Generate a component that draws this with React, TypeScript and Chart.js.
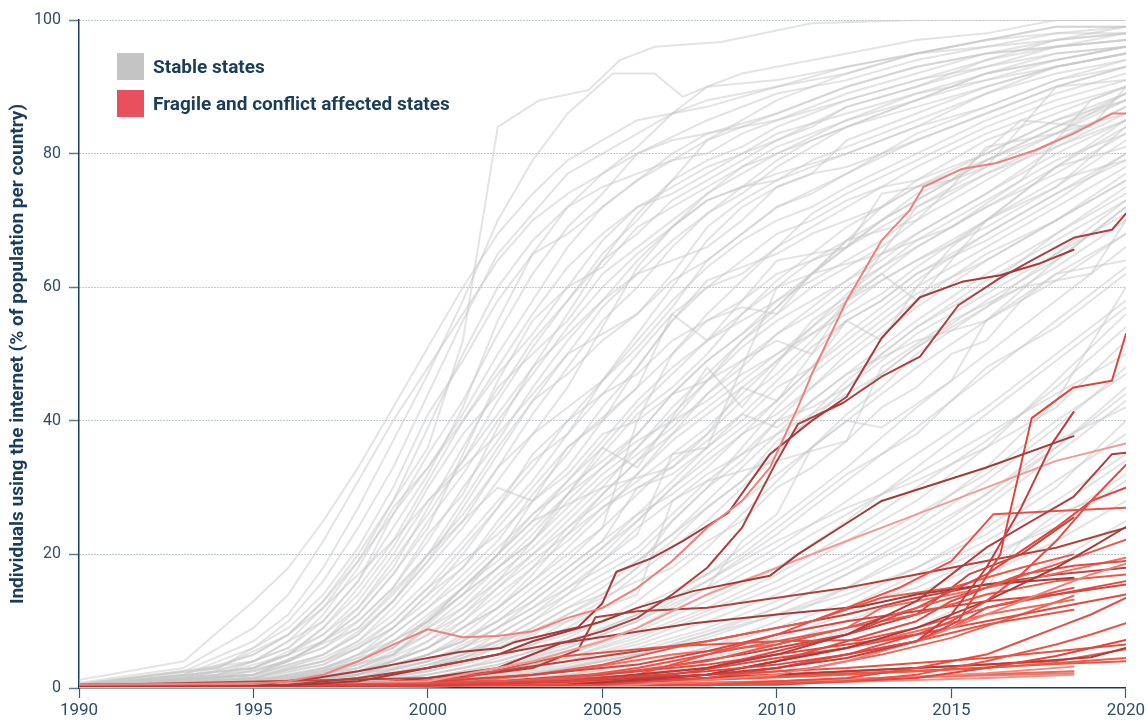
import React, { useEffect, useRef } from "react";
import Chart from "chart.js/auto";

type Pt = [number, number];

const X_MIN = 1990;
const X_MAX = 2020;
const X_STEP = 5;
const Y_MIN = 0;
const Y_MAX = 100;
const Y_STEP = 20;
const LEGEND_LABELS = ["Stable states", "Fragile and conflict affected states"];
const Y_TITLE = "Individuals using the internet (% of population per country)";

// ---------- Stable states (grey) ----------
const G01: Pt[] = [[1990,0.8],[1993,3],[1995,9],[1996,14],[1997,22],[1998,31],[1999,40],[2000,48],[2001,56],[2002,64],[2003,70],[2004,74],[2006,80],[2008,85],[2010,89],[2012,91],[2014,94],[2016,96],[2018,97],[2020,98]];
const G02: Pt[] = [[1990,1.2],[1993,4],[1995,13],[1996,18],[1997,25],[1998,33],[1999,42],[2000,51],[2001,60],[2002,68],[2003,74],[2004,79],[2006,85],[2008,87],[2010,90],[2012,93],[2014,95],[2016,97],[2018,99],[2020,99]];
const G03: Pt[] = [[1990,0.4],[1993,2],[1995,5],[1996,8],[1997,13],[1998,20],[1999,28],[2000,36],[2001,52],[2002,84],[2003.2,88],[2004.6,89.5],[2005.5,94],[2006.5,96],[2008.4,96.7],[2011,99.5],[2014,100],[2020,100]];
const G04: Pt[] = [[1990,0.6],[1993,2.5],[1995,7],[1996,11],[1997,18],[1998,27],[1999,37],[2000,47],[2001,58],[2002,70],[2003,79],[2004,86],[2005.3,92],[2006.5,92],[2007.3,88.5],[2008,90],[2010,91],[2012,93],[2014,95],[2016,96],[2018,98],[2020,98]];
const G05: Pt[] = [[1990,0.3],[1993,1.5],[1995,4],[1996,7],[1997,12],[1998,19],[1999,28],[2000,39],[2001,50],[2002,60],[2003,67],[2004,72],[2005,77],[2006,81],[2007,86],[2008,88],[2010,90],[2012,92],[2014,95],[2016,97],[2018,98],[2020,99]];
const G06: Pt[] = [[1990,0.5],[1993,2],[1995,6],[1996,9],[1997,14],[1998,21],[1999,30],[2000,41],[2001,49],[2002,58],[2003,65],[2004,68],[2005,72],[2006,76],[2007,80],[2008,83],[2010,86],[2012,90],[2014,93],[2016,95],[2018,96],[2020,97]];
const G07: Pt[] = [[1990,0.2],[1993,1],[1995,3],[1996,5],[1997,9],[1998,15],[1999,22],[2000,31],[2001,40],[2002,48],[2003,56],[2004,63],[2005,68],[2006,72],[2007,75],[2008,78],[2009,80],[2010,83],[2012,86],[2014,89],[2016,91],[2018,93],[2020,95]];
const G08: Pt[] = [[1990,0.3],[1993,1.2],[1995,4],[1996,6],[1997,10],[1998,16],[1999,26],[2000,35],[2001,43],[2002,53],[2003,62],[2004,69],[2005,74],[2006,80],[2007,82],[2008,83],[2010,85],[2012,88],[2014,91],[2016,93],[2018,96],[2020,97]];
const G09: Pt[] = [[1990,0.2],[1993,1],[1995,2.5],[1996,4],[1997,7],[1998,12],[1999,18],[2000,27],[2001,36],[2002,45],[2003,50],[2004,55],[2005,62],[2006,66],[2007,70],[2008,74],[2009,77],[2010,80],[2012,84],[2014,87],[2016,90],[2018,93],[2020,95]];
const G10: Pt[] = [[1990,0.4],[1993,1.5],[1995,5],[1996,8],[1997,12],[1998,17],[1999,22],[2000,28],[2001,34],[2002,41],[2003,48],[2004,56],[2005,64],[2006,71],[2007,76],[2008,82],[2009,85],[2010,88],[2012,92],[2014,95],[2016,97],[2018,99],[2020,99]];
const G11: Pt[] = [[1990,0.1],[1995,2],[1997,5],[1998,8],[1999,13],[2000,20],[2001,26],[2002,33],[2003,38],[2004,42],[2005,46],[2006,52],[2007,58],[2008,63],[2009,67],[2010,70],[2011,72],[2012,75],[2014,80],[2016,85],[2018,89],[2020,92]];
const G12: Pt[] = [[1990,0.2],[1995,1.5],[1997,4],[1998,7],[1999,11],[2000,16],[2001,22],[2002,28],[2003,34],[2004,38],[2005,44],[2006,50],[2007,56],[2008,60],[2009,62],[2010,66],[2012,72],[2014,78],[2016,83],[2018,87],[2020,90]];
const G13: Pt[] = [[1990,0.1],[1995,1],[1997,3],[1998,5],[1999,9],[2000,14],[2001,18],[2002,24],[2003,30],[2004,36],[2005,40],[2006,45],[2007,50],[2008,56],[2009,61],[2010,66],[2011,71],[2012,74],[2014,79],[2016,84],[2018,88],[2020,91]];
const G14: Pt[] = [[1990,0.2],[1995,2.5],[1997,6],[1998,10],[1999,15],[2000,22],[2001,30],[2002,37],[2003,45],[2004,52],[2005,58],[2006,62],[2007,64],[2008,66],[2009,70],[2010,75],[2011,77],[2012,78],[2014,82],[2016,86],[2018,90],[2020,93]];
const G15: Pt[] = [[1990,0.1],[1995,1],[1997,2.5],[1998,4],[1999,7],[2000,11],[2001,15],[2002,20],[2003,26],[2004,31],[2005,37],[2006,43],[2007,48],[2008,52],[2009,55],[2010,58],[2011,61],[2012,64],[2013,67],[2014,71],[2016,77],[2018,82],[2020,87]];
const G16: Pt[] = [[1990,0.3],[1995,3],[1997,7],[1998,11],[1999,17],[2000,25],[2001,32],[2002,40],[2003,47],[2004,54],[2005,60],[2006,65],[2007,69],[2008,73],[2009,75],[2010,77],[2012,80],[2014,84],[2016,87],[2018,91],[2020,94]];
const G17: Pt[] = [[1990,0.1],[1995,1.2],[1997,3.5],[1998,6],[1999,10],[2000,15],[2001,19],[2002,23],[2003,28],[2004,33],[2005,40],[2006,48],[2007,55],[2008,60],[2009,64],[2010,68],[2011,70],[2012,73],[2013,75],[2014,76],[2016,80],[2018,85],[2020,88]];
const G18: Pt[] = [[1990,0.2],[1995,2],[1997,5],[1998,8.5],[1999,13],[2000,19],[2001,27],[2002,35],[2003,43],[2004,50],[2005,57],[2006,62],[2007,67],[2008,71],[2009,74],[2010,78],[2011,81],[2012,84],[2014,88],[2016,91],[2018,94],[2020,96]];
const G19: Pt[] = [[1990,0],[1995,0.8],[1997,2],[1998,3.5],[1999,6],[2000,10],[2001,14],[2002,18],[2003,22],[2004,27],[2005,32],[2006,36],[2007,41],[2008,46],[2009,52],[2010,57],[2011,62],[2012,66],[2013,70],[2014,73],[2016,79],[2018,84],[2020,88]];
const G20: Pt[] = [[1990,0.3],[1995,2],[1997,4.5],[1998,7],[1999,12],[2000,18],[2001,24],[2002,31],[2003,38],[2004,45],[2005,54],[2006,63],[2007,69],[2008,74],[2009,78],[2010,81],[2012,85],[2014,89],[2016,92],[2018,94],[2020,96]];
const G21: Pt[] = [[1990,0.1],[1995,1],[1997,3],[1998,5],[1999,8],[2000,12],[2001,17],[2002,22],[2003,29],[2004,35],[2005,42],[2006,48],[2007,55],[2008,61],[2009,63],[2010,65],[2011,68],[2012,70],[2013,72],[2014,75],[2016,79],[2018,83],[2020,86]];
const G22: Pt[] = [[1990,0.2],[1995,1.5],[1997,3.5],[1998,6],[1999,9],[2000,14],[2001,20],[2002,27],[2003,35],[2004,40],[2005,44],[2006,47],[2007,52],[2008,55],[2009,58],[2010,62],[2011,64],[2012,67],[2013,70],[2014,74],[2016,78],[2018,83],[2020,89]];
const G23: Pt[] = [[1990,0.2],[1995,1.8],[1997,4],[1998,6],[1999,9],[2000,13],[2001,18],[2002,25],[2003,31],[2004,38],[2005,46],[2006,53],[2007,60],[2008,67],[2009,72],[2010,75],[2011,77],[2012,82],[2014,86],[2016,90],[2018,93],[2020,95]];
const G24: Pt[] = [[1990,0.1],[1995,0.8],[1997,2],[1998,3.5],[1999,5],[2000,9],[2001,12],[2002,16],[2003,20],[2004,24],[2005,29],[2006,34],[2007,40],[2008,46],[2009,51],[2010,55],[2011,58],[2012,61],[2013,64],[2014,68],[2016,74],[2018,81],[2020,85]];
const G25: Pt[] = [[1990,0],[1995,0.3],[1998,1.5],[2000,4],[2001,6],[2002,9],[2003,12],[2004,16],[2005,20],[2006,25],[2007,30],[2008,35],[2009,39],[2010,43],[2011,48],[2012,52],[2013,56],[2014,60],[2016,66],[2018,72],[2020,78]];
const G26: Pt[] = [[1990,0],[1995,0.5],[1998,2],[2000,5],[2001,7],[2002,10],[2003,14],[2004,18],[2005,22],[2006,26],[2007,29],[2008,33],[2009,38],[2010,43],[2011,50],[2012,55],[2013,58],[2014,62],[2016,67],[2018,73],[2020,80]];
const G27: Pt[] = [[1990,0],[1995,0.2],[1998,1],[2000,3],[2001,4.5],[2002,7],[2003,10],[2004,13],[2005,16],[2006,19],[2007,23],[2008,28],[2009,33],[2010,38],[2011,43],[2012,47],[2013,51],[2014,55],[2016,62],[2018,68],[2020,74]];
const G28: Pt[] = [[1990,0],[1995,0.4],[1998,2.5],[2000,6],[2001,9],[2002,13],[2003,18],[2004,24],[2005,28],[2006,32],[2007,37],[2008,41],[2009,45],[2010,49],[2011,53],[2012,57],[2013,61],[2014,64],[2016,69],[2018,75],[2020,82]];
const G29: Pt[] = [[1990,0],[1995,0.3],[1998,1.2],[2000,3.5],[2001,5],[2002,8],[2003,11],[2004,15],[2005,18],[2006,21],[2007,26],[2008,31],[2009,35],[2010,40],[2011,45],[2012,50],[2013,54],[2014,58],[2016,65],[2018,70],[2020,76]];
const G30: Pt[] = [[1990,0],[1995,0.5],[1998,2],[2000,5],[2001,8],[2002,12],[2003,17],[2004,23],[2005,29],[2006,34],[2007,38],[2008,42],[2009,46],[2010,50],[2011,53],[2012,56],[2013,59],[2014,63],[2016,70],[2018,78],[2020,84]];
const G31: Pt[] = [[1990,0],[1995,0.2],[1998,1],[2000,2.5],[2001,3.5],[2002,5],[2003,7],[2004,10],[2005,13],[2006,17],[2007,21],[2008,25],[2009,30],[2010,35],[2011,41],[2012,46],[2013,50],[2014,54],[2016,61],[2018,67],[2020,73]];
const G32: Pt[] = [[1990,0],[1995,0.3],[1998,1.5],[2000,4],[2001,6],[2002,8],[2003,11],[2004,14],[2005,17],[2006,20],[2007,25],[2008,30],[2009,36],[2010,42],[2011,47],[2012,51],[2013,55],[2014,59],[2016,64],[2018,70],[2020,77]];
const G33: Pt[] = [[1990,0],[1995,0.4],[1998,2],[2000,6],[2001,10],[2002,15],[2003,20],[2004,25],[2005,30],[2006,36],[2007,42],[2008,47],[2009,52],[2010,56],[2011,60],[2012,63],[2013,66],[2014,70],[2016,76],[2018,82],[2020,87]];
const G34: Pt[] = [[1990,0],[1995,0.2],[1998,0.8],[2000,2],[2001,3],[2002,4.5],[2003,6.5],[2004,9],[2005,12],[2006,15],[2007,19],[2008,24],[2009,28],[2010,32],[2011,36],[2012,40],[2013,44],[2014,48],[2016,55],[2018,61],[2020,68]];
const G35: Pt[] = [[1990,0],[1995,0.3],[1998,1.3],[2000,3],[2001,4.5],[2002,6.5],[2003,9],[2004,12],[2005,15],[2006,19],[2007,23],[2008,27],[2009,31],[2010,36],[2011,40],[2012,45],[2013,49],[2014,53],[2016,59],[2018,65],[2020,71]];
const G36: Pt[] = [[1990,0],[1995,0.5],[1998,2.5],[2000,7],[2001,11],[2002,16],[2003,22],[2004,28],[2005,33],[2006,38],[2007,44],[2008,49],[2009,53],[2010,57],[2011,62],[2012,66],[2013,70],[2014,73],[2016,79],[2018,84],[2020,89]];
const G37: Pt[] = [[1990,0],[1995,0.2],[1998,1],[2000,2.5],[2001,4],[2002,6],[2003,8],[2004,11],[2005,14],[2006,18],[2007,22],[2008,27],[2009,31],[2010,37],[2011,40],[2012,43],[2013,47],[2014,51],[2016,57],[2018,63],[2020,70]];
const G38: Pt[] = [[1990,0],[1995,0.4],[1998,1.5],[2000,4],[2001,6.5],[2002,9],[2003,13],[2004,17],[2005,21],[2006,26],[2007,31],[2008,36],[2009,41],[2010,46],[2011,51],[2012,55],[2013,58],[2014,62],[2016,68],[2018,74],[2020,80]];
const G39: Pt[] = [[1990,0],[1995,0.3],[1998,1],[2000,3],[2001,5],[2002,7],[2003,10],[2004,14],[2005,19],[2006,24],[2007,28],[2008,32],[2009,35],[2010,38],[2011,41],[2012,44],[2013,47],[2014,51],[2016,58],[2018,64],[2020,72]];
const G40: Pt[] = [[1990,0],[1995,0.6],[1998,3],[2000,8],[2001,12],[2002,17],[2003,21],[2004,26],[2005,31],[2006,35],[2007,39],[2008,44],[2009,48],[2010,53],[2011,56],[2012,60],[2013,63],[2014,66],[2016,72],[2018,78],[2020,85]];
const G41: Pt[] = [[1990,0],[1995,0.2],[1998,0.8],[2000,2],[2001,3],[2002,4],[2003,5.5],[2004,7.5],[2005,10],[2006,13],[2007,17],[2008,21],[2009,26],[2010,31],[2011,36],[2012,41],[2013,45],[2014,50],[2016,57],[2018,65],[2020,73]];
const G42: Pt[] = [[1990,0],[1995,0.5],[1998,2],[2000,5],[2001,7],[2002,11],[2003,15],[2004,19],[2005,24],[2006,29],[2007,34],[2008,38],[2009,43],[2010,47],[2011,52],[2012,58],[2013,62],[2014,66],[2016,72],[2018,77],[2020,83]];
const G43: Pt[] = [[1990,0],[1998,0.3],[2000,1],[2002,2.5],[2004,4.5],[2006,8],[2008,12],[2010,17],[2012,23],[2014,30],[2016,37],[2018,45],[2020,54]];
const G44: Pt[] = [[1990,0],[1998,0.5],[2000,1.5],[2002,3.5],[2004,6],[2006,10],[2008,15],[2010,21],[2012,28],[2014,35],[2016,42],[2018,50],[2020,58]];
const G45: Pt[] = [[1990,0],[1998,0.2],[2000,0.8],[2002,2],[2004,3.5],[2006,6],[2008,9],[2010,13],[2012,18],[2014,24],[2016,31],[2018,39],[2020,48]];
const G46: Pt[] = [[1990,0],[1998,0.4],[2000,1.2],[2002,3],[2004,5.5],[2006,9],[2008,14],[2010,20],[2012,26],[2014,32],[2016,38],[2018,44],[2020,50]];
const G47: Pt[] = [[1990,0],[1998,0.3],[2000,1],[2002,2.2],[2004,4],[2006,6.5],[2008,10],[2010,14],[2012,19],[2014,25],[2016,33],[2018,43],[2020,60]];
const G48: Pt[] = [[1990,0],[1998,0.2],[2000,0.6],[2002,1.5],[2004,3],[2006,5],[2008,7.5],[2010,11],[2012,15],[2014,20],[2016,27],[2018,35],[2020,43]];
const G49: Pt[] = [[1990,0],[1998,0.5],[2000,2],[2002,4],[2004,7],[2006,11],[2008,16],[2010,23],[2012,31],[2014,39],[2016,47],[2018,55],[2020,63]];
const G50: Pt[] = [[1990,0],[1998,0.2],[2000,0.5],[2002,1.2],[2004,2.5],[2006,4],[2008,6],[2010,9],[2012,13],[2014,18],[2016,24],[2018,31],[2020,38]];
const G51: Pt[] = [[1990,0],[1998,0.3],[2000,1],[2002,2.8],[2004,5],[2006,8.5],[2008,13],[2010,18],[2012,25],[2014,33],[2016,41],[2018,49],[2020,57]];
const G52: Pt[] = [[1990,0],[1998,0.1],[2000,0.4],[2002,1],[2004,2],[2006,3.5],[2008,5.5],[2010,8],[2012,12],[2014,17],[2016,22],[2018,28],[2020,35]];
const G53: Pt[] = [[1990,0],[1998,0.4],[2000,1.5],[2002,3.5],[2004,6.5],[2006,11],[2008,17],[2010,25],[2012,33],[2014,42],[2016,50],[2018,58],[2020,66]];
const G54: Pt[] = [[1990,0],[1998,0.2],[2000,0.7],[2002,1.8],[2004,3.2],[2006,5.5],[2008,8.5],[2010,12],[2012,17],[2014,22],[2016,29],[2018,36],[2020,45]];
const G55: Pt[] = [[1990,0],[1998,0.1],[2000,0.3],[2002,0.8],[2004,1.6],[2006,2.8],[2008,4.5],[2010,6.5],[2012,10],[2014,14],[2016,19],[2018,25],[2020,32]];
const G56: Pt[] = [[1990,0],[1998,0.3],[2000,1],[2002,2.5],[2004,4.5],[2006,7.5],[2008,11.5],[2010,16],[2012,22],[2014,28],[2016,36],[2018,46],[2020,56]];
const G57: Pt[] = [[1990,0],[1995,0.5],[1998,2],[2000,6],[2002,12],[2004,20],[2005,24],[2006,40],[2007,44],[2008,46],[2010,52],[2011,50],[2012,58],[2014,72],[2016,78],[2018,90],[2020,91]];
const G58: Pt[] = [[1990,0.2],[1995,2],[1998,9],[2000,20],[2002,30],[2003,28],[2004,36],[2006,45],[2007,56],[2008,52],[2010,64],[2012,66],[2013,74],[2015,76],[2017,85],[2019,84],[2020,90]];
const G59: Pt[] = [[1990,0],[1996,1],[1999,5],[2001,14],[2003,22],[2005,36],[2006,33],[2008,48],[2009,42],[2011,55],[2013,62],[2014,58],[2016,70],[2018,78],[2020,81]];
const G60: Pt[] = [[1990,0],[1997,1],[2000,4],[2002,7],[2004,10],[2006,14],[2007,28],[2008,31],[2010,34],[2012,37],[2013,48],[2015,55],[2017,60],[2019,62],[2020,70]];
const G61: Pt[] = [[1990,0.1],[1996,1.5],[1999,6],[2001,15],[2003,25],[2005,30],[2007,33],[2009,41],[2010,39],[2012,47],[2014,52],[2016,55],[2018,64],[2020,72]];
const G62: Pt[] = [[1990,0],[1997,0.8],[2000,3],[2002,9],[2004,15],[2006,23],[2007,35],[2008,36],[2010,60],[2011,62],[2013,65],[2015,69],[2017,76],[2019,88],[2020,90]];
const G63: Pt[] = [[1990,0],[1998,0.5],[2001,2],[2004,5],[2006,9],[2008,15],[2009,22],[2010,26],[2011,36],[2012,40],[2013,39],[2015,46],[2016,55],[2018,62],[2020,64]];
const G64: Pt[] = [[1990,0],[2000,0.2],[2004,0.8],[2008,2],[2010,3.5],[2012,6],[2014,9],[2016,14],[2018,19],[2020,25]];
const G65: Pt[] = [[1990,0],[2000,0.5],[2004,1.5],[2008,3],[2010,5],[2012,8],[2014,11],[2016,15],[2017,22],[2018,26],[2020,30]];
const G66: Pt[] = [[1990,0.5],[1994,3],[1995,6],[1996,10],[1997,16],[1998,24],[1999,33],[2000,44],[2001,55],[2002,65],[2003,71],[2004,77],[2005,80],[2006,83],[2007,86],[2008,90],[2009,92],[2010,93],[2012,95],[2014,97],[2016,98],[2018,100],[2020,100]];
const G67: Pt[] = [[1990,0.3],[1994,2],[1996,6],[1997,11],[1998,18],[1999,27],[2000,33],[2001,41],[2002,50],[2003,58],[2004,66],[2005,72],[2006,76],[2007,79],[2008,82],[2009,84],[2010,86],[2011,88],[2012,90],[2014,93],[2016,95],[2018,96],[2020,97]];
const G68: Pt[] = [[1990,0.2],[1994,1.5],[1996,4],[1997,7],[1998,11],[1999,17],[2000,24],[2001,35],[2002,46],[2003,55],[2004,60],[2005,63],[2006,69],[2007,72],[2008,75],[2009,78],[2010,80],[2012,85],[2014,88],[2016,92],[2018,95],[2020,96]];
const G69: Pt[] = [[1990,0.4],[1994,2],[1996,5],[1997,9],[1998,14],[1999,21],[2000,30],[2001,38],[2002,44],[2003,52],[2004,58],[2005,65],[2006,70],[2007,76],[2008,79],[2009,81],[2010,84],[2011,86],[2012,88],[2014,91],[2016,94],[2018,96],[2020,98]];
const G70: Pt[] = [[1990,0.6],[1994,3],[1996,8],[1997,13],[1998,19],[1999,26],[2000,33],[2001,40],[2002,47],[2003,53],[2004,60],[2005,67],[2006,72],[2007,74],[2008,77],[2009,80],[2010,82],[2011,84],[2012,87],[2014,90],[2016,93],[2018,95],[2020,96]];
const G71: Pt[] = [[1990,0.1],[1995,1.5],[1996,3],[1997,5],[1998,8],[1999,13],[2000,19],[2001,25],[2002,33],[2003,41],[2004,48],[2005,55],[2006,60],[2007,66],[2008,71],[2009,75],[2010,79],[2011,82],[2012,84],[2014,88],[2016,92],[2018,94],[2020,96]];
const G72: Pt[] = [[1990,0.3],[1995,3],[1996,5],[1997,8],[1998,13],[1999,20],[2000,28],[2001,33],[2002,38],[2003,44],[2004,50],[2005,53],[2006,56],[2007,61],[2008,64],[2009,68],[2010,72],[2011,74],[2012,77],[2013,80],[2014,83],[2016,87],[2018,91],[2020,93]];
const G73: Pt[] = [[1990,0.2],[1995,2],[1996,4],[1997,7],[1998,10],[1999,15],[2000,23],[2001,29],[2002,39],[2003,48],[2004,53],[2005,58],[2006,64],[2007,69],[2008,73],[2009,75],[2010,76],[2011,79],[2012,81],[2014,85],[2016,89],[2018,92],[2020,94]];
const G74: Pt[] = [[1990,0],[1995,0.8],[1997,2.5],[1998,4.5],[1999,8],[2000,12],[2001,16],[2002,21],[2003,26],[2004,30],[2005,34],[2006,38],[2007,44],[2008,49],[2009,53],[2010,58],[2011,62],[2012,67],[2013,72],[2014,76],[2016,82],[2018,86],[2020,90]];
const G75: Pt[] = [[1990,0],[1995,0.5],[1997,1.5],[1998,3],[1999,5],[2000,8],[2001,11],[2002,15],[2003,19],[2004,23],[2005,27],[2006,31],[2007,35],[2008,39],[2009,44],[2010,49],[2011,54],[2012,59],[2013,63],[2014,67],[2016,73],[2018,79],[2020,83]];
const G76: Pt[] = [[1990,0.1],[1995,1],[1997,2.8],[1998,5],[1999,7],[2000,10],[2001,15],[2002,19],[2003,24],[2004,29],[2005,35],[2006,41],[2007,45],[2008,50],[2009,56],[2010,60],[2011,64],[2012,66],[2013,69],[2014,72],[2016,77],[2018,81],[2020,86]];
const G77: Pt[] = [[1990,0],[1995,0.4],[1997,1.2],[1998,2.5],[1999,4],[2000,6],[2001,9],[2002,12],[2003,16],[2004,21],[2005,26],[2006,32],[2007,38],[2008,44],[2009,49],[2010,53],[2011,57],[2012,61],[2013,65],[2014,68],[2016,74],[2018,80],[2020,85]];
const G78: Pt[] = [[1990,0],[1996,1],[1998,3],[1999,5],[2000,9],[2001,13],[2002,18],[2003,23],[2004,29],[2005,33],[2006,37],[2007,40],[2008,43],[2009,47],[2010,50],[2011,54],[2012,58],[2013,61],[2014,64],[2016,70],[2018,76],[2020,79]];
const G79: Pt[] = [[1990,0],[1996,0.8],[1998,2.5],[1999,4],[2000,7],[2001,10],[2002,14],[2003,18],[2004,22],[2005,27],[2006,30],[2007,32],[2008,36],[2009,40],[2010,45],[2011,48],[2012,53],[2013,57],[2014,61],[2016,68],[2018,74],[2020,79]];
const G80: Pt[] = [[1990,0],[1996,0.6],[1998,2],[2000,5],[2001,7],[2002,10],[2003,13],[2004,17],[2005,21],[2006,25],[2007,30],[2008,34],[2009,38],[2010,41],[2011,45],[2012,49],[2013,53],[2014,57],[2016,64],[2018,70],[2020,76]];
const G81: Pt[] = [[1990,0],[1996,1.2],[1998,4],[2000,10],[2001,14],[2002,20],[2003,25],[2004,31],[2005,36],[2006,42],[2007,47],[2008,52],[2009,56],[2010,61],[2011,65],[2012,69],[2013,72],[2014,75],[2016,80],[2018,85],[2020,89]];
const G82: Pt[] = [[1990,0],[1997,1],[1999,3],[2000,5],[2002,10],[2004,18],[2005,22],[2006,30],[2007,33],[2008,38],[2009,45],[2010,43],[2011,48],[2012,55],[2013,52],[2014,60],[2015,66],[2016,70],[2018,75],[2020,84]];
const G83: Pt[] = [[1990,0],[1997,2],[1999,6],[2000,10],[2002,20],[2003,28],[2004,32],[2005,38],[2006,40],[2007,50],[2008,55],[2009,57],[2010,56],[2011,62],[2012,67],[2014,70],[2015,75],[2016,81],[2018,83],[2020,88]];
const G84: Pt[] = [[1990,0],[1997,0.5],[1999,2],[2001,5],[2003,9],[2004,12],[2005,14],[2006,18],[2007,25],[2008,30],[2009,34],[2010,40],[2011,42],[2012,45],[2013,50],[2014,54],[2015,57],[2016,60],[2018,68],[2020,75]];
const G85: Pt[] = [[1990,0],[1998,1],[2000,3],[2002,6],[2004,11],[2006,16],[2007,18],[2008,22],[2009,25],[2010,30],[2011,33],[2012,37],[2013,42],[2014,45],[2015,50],[2016,52],[2017,58],[2018,62],[2020,68]];
const G86: Pt[] = [[1990,0],[1998,0.8],[2000,2.5],[2002,5],[2004,8],[2006,12],[2008,17],[2009,20],[2010,24],[2011,28],[2012,32],[2013,35],[2014,38],[2015,43],[2016,48],[2017,51],[2018,54],[2020,62]];
const G87: Pt[] = [[1990,0],[2000,0.3],[2002,0.8],[2004,1.5],[2006,3],[2008,5],[2010,7.5],[2012,11],[2014,16],[2016,21],[2018,27],[2020,34]];
const G88: Pt[] = [[1990,0],[2000,0.6],[2002,1.5],[2004,3],[2006,5],[2008,8],[2010,11],[2012,14],[2014,18],[2016,23],[2018,30],[2020,40]];
const G89: Pt[] = [[1990,0],[2000,0.4],[2002,1],[2004,2],[2006,3.5],[2008,6],[2010,10],[2012,15],[2014,21],[2016,28],[2018,36],[2020,44]];
const G90: Pt[] = [[1990,0],[2000,0.2],[2002,0.5],[2004,1],[2006,2],[2008,3.5],[2010,5.5],[2012,8.5],[2014,12],[2016,17],[2018,22],[2020,28]];
const G91: Pt[] = [[1990,0],[2000,0.8],[2002,2],[2004,4],[2006,7],[2008,11],[2010,15],[2012,20],[2014,26],[2016,32],[2018,40],[2020,47]];
const G92: Pt[] = [[1990,0],[2000,1],[2002,3],[2004,6],[2006,10],[2008,16],[2010,22],[2012,27],[2014,31],[2016,36],[2018,42],[2020,52]];
const G93: Pt[] = [[1990,0],[2000,0.3],[2003,1.2],[2006,3],[2008,5],[2010,8],[2012,12],[2014,15],[2016,20],[2018,24],[2020,31]];
const G94: Pt[] = [[1990,0],[2000,0.5],[2003,2],[2006,5],[2008,8],[2010,12],[2012,17],[2014,23],[2016,29],[2018,37],[2020,42]];
const G95: Pt[] = [[1990,0.5],[1995,4],[1997,10],[1998,16],[1999,24],[2000,32],[2001,42],[2002,55],[2003,65],[2004,72],[2005,75],[2006,77],[2007,79],[2008,80],[2009,83],[2010,85],[2012,89],[2014,92],[2016,95],[2018,97],[2020,98]];
const G96: Pt[] = [[1990,0.3],[1995,3],[1997,8],[1998,12],[1999,19],[2000,26],[2001,34],[2002,43],[2003,51],[2004,58],[2005,64],[2006,68],[2007,73],[2008,76],[2009,79],[2010,82],[2012,87],[2014,90],[2016,94],[2018,97],[2020,99]];
const G97: Pt[] = [[1990,0.4],[1995,2],[1997,6],[1998,9],[1999,14],[2000,20],[2001,28],[2002,36],[2003,43],[2004,47],[2005,52],[2006,56],[2007,62],[2008,69],[2009,73],[2010,76],[2012,80],[2014,84],[2016,89],[2018,93],[2020,95]];
const G98: Pt[] = [[1990,0.2],[1995,1.5],[1997,4],[1998,6.5],[1999,10],[2000,15],[2001,21],[2002,27],[2003,33],[2004,40],[2005,46],[2006,51],[2007,57],[2008,64],[2009,68],[2010,72],[2012,77],[2014,82],[2016,86],[2018,90],[2020,93]];

const STABLE: Pt[][] = [G01,G02,G03,G04,G05,G06,G07,G08,G09,G10,G11,G12,G13,G14,G15,G16,G17,G18,G19,G20,G21,G22,G23,G24,G25,G26,G27,G28,G29,G30,G31,G32,G33,G34,G35,G36,G37,G38,G39,G40,G41,G42,G43,G44,G45,G46,G47,G48,G49,G50,G51,G52,G53,G54,G55,G56,G57,G58,G59,G60,G61,G62,G63,G64,G65,G66,G67,G68,G69,G70,G71,G72,G73,G74,G75,G76,G77,G78,G79,G80,G81,G82,G83,G84,G85,G86,G87,G88,G89,G90,G91,G92,G93,G94,G95,G96,G97,G98];

// ---------- Fragile and conflict affected states (red) ----------
const R01: Pt[] = [[1990,0.5],[1995,0.6],[1996,1],[1997,2],[1998,4],[1999,6.5],[2000,8.8],[2001,7.6],[2002,7.8],[2003,8.5],[2004,10.5],[2005,12],[2006,15],[2007,19],[2008,24],[2009,28],[2009.8,33],[2010.6,42],[2011,47],[2012,58],[2013,67],[2013.8,71.5],[2014.2,75],[2015.3,77.7],[2016.3,78.6],[2017.4,80.5],[2018.5,83],[2019.6,86],[2020,86]];
const R02: Pt[] = [[1990,0.4],[1995,0.5],[1996.8,1.5],[1998,2.5],[1999,3.5],[2000,4.5],[2000.9,5.4],[2002.1,6],[2002.5,6.9],[2004.3,9.1],[2005,12.7],[2005.4,17.4],[2006.4,19.4],[2007.3,22],[2008.6,26.2],[2009.8,35],[2011,40],[2012,43.6],[2013,52.4],[2014.1,58.5],[2015.3,60.8],[2016.4,61.8],[2017.5,63.5],[2018.5,65.6]];
const R03: Pt[] = [[1990,0.4],[1996,0.5],[1998,1.5],[2000,3],[2002,5],[2004,7],[2005,8.5],[2006,10.5],[2007,14],[2008,18],[2009,24],[2010,34],[2010.6,39.5],[2011.9,42.7],[2013,46.6],[2014.1,49.6],[2015.2,57.3],[2016.4,61.4],[2017.3,64],[2018.5,67.4],[2019.6,68.6],[2020,71]];
const R04: Pt[] = [[1990,0.3],[1996,0.4],[1998,1],[2000,3],[2002,5],[2003,7],[2004,8.5],[2005,10],[2006,12],[2007.6,14.5],[2009.8,16.8],[2010.6,20],[2012.1,25],[2013,28],[2014.5,30.5],[2016,33],[2018.5,37.7]];
const R05: Pt[] = [[1990,0.3],[2000,0.5],[2004,1],[2008,2.5],[2010,3.5],[2012,5],[2014,7],[2015.2,10],[2016.4,20],[2017.3,40.4],[2018.5,45],[2019.6,46],[2020,53]];
const R06: Pt[] = [[1990,0.3],[2000,0.4],[2004,1],[2008,2],[2010,3],[2012,4.5],[2014,7],[2015,11],[2016,18],[2017,27],[2017.9,36.7],[2018.5,41.3]];
const R07: Pt[] = [[1990,0.4],[2000,1],[2003,4],[2005,7],[2006,9],[2008,14],[2010,18],[2012,22],[2014,26],[2016,30],[2018,34],[2020,36.6]];
const R08: Pt[] = [[1990,0.3],[2000,0.4],[2004,1],[2008,3],[2010,5],[2012,8],[2014,13],[2016,21],[2017.3,25],[2018.5,28.6],[2019.6,35],[2020,35.2]];
const R09: Pt[] = [[1990,0.3],[2005,0.5],[2008,1.5],[2010,3],[2012,5],[2014,8],[2015,10],[2016,13],[2017,17],[2018,22],[2019,28],[2020,33.4]];
const R10: Pt[] = [[1990,0.4],[2002,0.6],[2006,2],[2008,5],[2010,8],[2012,12],[2013.5,15],[2015,19],[2016.2,26],[2018,26.5],[2020,27]];
const R11: Pt[] = [[1990,0.3],[2004,0.5],[2008,2],[2010,4],[2012,6],[2014,9],[2016,13],[2017,15.5],[2018,18],[2019,21],[2020,24.1]];
const R12: Pt[] = [[1990,0.4],[2000,0.5],[2004,1.5],[2006,3],[2008,5],[2010,7],[2012,9],[2014,12],[2016,15],[2018,18.5],[2020,22.2]];
const R13: Pt[] = [[1990,0.3],[2004,0.5],[2008,2],[2010,4],[2012,7],[2014,10],[2015,13],[2016,15],[2017,17],[2018.5,18.3],[2020,19]];
const R14: Pt[] = [[1990,0.3],[2006,0.5],[2010,2],[2012,4],[2014,7],[2016,11],[2017,13],[2018,15],[2019,17],[2020,18.6]];
const R15: Pt[] = [[1990,0.3],[2008,0.5],[2012,1.5],[2014,3],[2016,5],[2017,7],[2018,9],[2019,11],[2020,13.5]];
const R16: Pt[] = [[1990,0.3],[2008,0.4],[2012,1],[2014,2],[2016,4],[2018,6.5],[2019,8],[2020,9.7]];
const R17: Pt[] = [[1990,0.4],[2010,0.5],[2014,1.5],[2016,3],[2018,4.8],[2019,6],[2020,7.2]];
const R18: Pt[] = [[1990,0.3],[2004,0.5],[2008,1.5],[2012,2.5],[2016,3.5],[2018,4.2],[2019,4.6],[2020,6]];
const R19: Pt[] = [[1990,0.3],[2000,0.4],[2006,1],[2010,2],[2014,3],[2018,4],[2020,5.8]];
const R20: Pt[] = [[1990,0.4],[2004,0.6],[2008,2],[2010,4],[2012,6],[2014,8.5],[2016,11],[2018.5,13.2]];
const R21: Pt[] = [[1990,0.3],[2006,1],[2010,3],[2012,5],[2014,7],[2016,9.5],[2018.5,11.7]];
const R22: Pt[] = [[1990,0.3],[2008,0.5],[2012,1.2],[2016,2.2],[2018.5,3.2]];
const R23: Pt[] = [[1990,0.4],[2006,0.5],[2010,1],[2014,1.7],[2018.5,2.5]];
const R24: Pt[] = [[1990,0.3],[2008,0.4],[2012,0.9],[2016,1.5],[2018.5,2]];
const R25: Pt[] = [[1990,0.4],[2004,1],[2008,3],[2010,5.5],[2012,8],[2014,12],[2016,17],[2018,24],[2019,28],[2020,30]];
const R26: Pt[] = [[1990,0.3],[1998,0.5],[2000,1.5],[2002,3],[2003.8,6.7],[2007.6,9.7],[2010,11],[2012.4,12.2],[2014,14],[2016,15.5],[2018.5,16.5]];
const R27: Pt[] = [[1990,0.4],[1998,0.5],[2001,1.5],[2003.8,4.7],[2006.9,6.2],[2010,7],[2012.4,7.2],[2014,9],[2016,12],[2018.5,15]];
const R28: Pt[] = [[1990,0.3],[2000,1],[2003,3],[2004.3,5.7],[2004.8,10.6],[2006,11.5],[2008,12],[2010,13.5],[2012,15],[2014,17],[2016,19],[2018,21],[2020,24]];
const R29: Pt[] = [[1990,0.5],[2000,0.6],[2004,0.8],[2008,1.2],[2012,2],[2016,3],[2020,4.5]];
const R30: Pt[] = [[1990,0.4],[2002,0.6],[2006,1],[2010,1.8],[2014,2.6],[2018,3.6],[2020,4]];
const R31: Pt[] = [[1990,0.5],[1998,0.6],[2004,1],[2008,2],[2012,3],[2016,4.5],[2020,6.5]];
const R32: Pt[] = [[1990,0.3],[2000,0.4],[2006,0.6],[2010,1],[2014,1.6],[2018.5,2.2]];
const R33: Pt[] = [[1990,0.4],[2000,0.5],[2004,1.5],[2008,3.5],[2010,5],[2012,6.5],[2014,8],[2016,10],[2018,12],[2020,14]];
const R34: Pt[] = [[1990,0.3],[2001,0.5],[2005,2],[2008,4],[2010,6.5],[2012,9],[2014,11],[2016,14],[2018,16],[2020,17]];
const R35: Pt[] = [[1990,0.5],[1999,0.6],[2003,2],[2006,3.5],[2008,5.5],[2010,8],[2012,10],[2014,11.5],[2016,13],[2018,14],[2020,15.5]];
const R36: Pt[] = [[1990,0.4],[2000,0.8],[2003,2],[2005,3.5],[2007,6],[2009,8],[2011,10],[2013,13.5],[2015,15],[2017,18],[2018.5,20]];
const R37: Pt[] = [[1990,0.3],[2002,1],[2006,2.5],[2009,5],[2012,8],[2014,11],[2015.5,17],[2017,20],[2018.5,25.5]];
const R38: Pt[] = [[1990,0.5],[2001,0.8],[2004,2.5],[2007,5],[2010,6.5],[2012,9],[2013,12],[2015,14],[2017,16],[2020,19.5]];
const R39: Pt[] = [[1990,0.3],[2003,0.8],[2007,2],[2010,4.5],[2012,6],[2014,8],[2015,9],[2016,12],[2018,14],[2020,16]];
const R40: Pt[] = [[1990,0.4],[2000,1.5],[2002,2.5],[2004,4],[2006,5.5],[2008,7],[2010,9],[2012,11],[2014,13.5],[2016,15.5],[2018,17],[2020,18]];
const R41: Pt[] = [[1990,0.3],[2004,0.8],[2008,1.5],[2011,3],[2013,5],[2015,7.5],[2017,11],[2018.5,13.8]];

const FRAGILE: Pt[][] = [R01,R02,R03,R04,R05,R06,R07,R08,R09,R10,R11,R12,R13,R14,R15,R16,R17,R18,R19,R20,R21,R22,R23,R24,R25,R26,R27,R28,R29,R30,R31,R32,R33,R34,R35,R36,R37,R38,R39,R40,R41];

// styles (kept apart from the data)
const GREY_LINE = "rgba(200,200,200,0.5)";
const RED_TONES = [
  "#f07f7c", "#a8383a", "#b23d3d", "#a33a36", "#e0443e", "#c63c3b", "#f29a94",
  "#b13c3a", "#e64a45", "#e9504a", "#a83a36", "#e55a4e", "#e44a40", "#f07e76",
  "#e64c3f", "#ea5347", "#e0453e", "#b03c36", "#e85a4a", "#ee6a5a", "#e85345",
  "#f3877b", "#ec6a5c", "#f19088", "#e24540", "#a63a38", "#e35447", "#b5403a",
  "#ee5b48", "#ec5443", "#e8503e", "#f07a66", "#e2493e", "#e95849", "#d8453c",
  "#e9594b", "#c44a40", "#ef6f62", "#e3483f", "#b8463e", "#ec6356",
];
const INK = "#1b3d5a";
const TICK_INK = "#2e4d68";
const GRID_INK = "#8497a6";

export default function App() {
  const canvasRef = useRef<HTMLCanvasElement | null>(null);

  useEffect(() => {
    document.body.style.margin = "0";
    const canvas = canvasRef.current;
    if (!canvas) return;

    const toXY = (s: Pt[]) => s.map(([x, y]) => ({ x, y }));
    const datasets: any[] = [];
    STABLE.forEach((s, i) => {
      datasets.push({
        label: "stable-" + i,
        data: toXY(s),
        borderColor: GREY_LINE,
        borderWidth: 2,
        pointRadius: 0,
        tension: 0,
        order: 2,
      });
    });
    FRAGILE.forEach((s, i) => {
      datasets.push({
        label: "fragile-" + i,
        data: toXY(s),
        borderColor: RED_TONES[i % RED_TONES.length],
        borderWidth: 2,
        pointRadius: 0,
        tension: 0,
        order: 1,
      });
    });

    const chart = new Chart(canvas, {
      type: "line",
      data: { datasets },
      options: {
        animation: false,
        responsive: false,
        layout: { padding: { top: 20, right: 22, left: 0, bottom: 0 } },
        plugins: { legend: { display: false }, tooltip: { enabled: false } },
        elements: { line: { borderCapStyle: "round", borderJoinStyle: "round" } },
        scales: {
          x: {
            type: "linear",
            min: X_MIN,
            max: X_MAX,
            ticks: {
              stepSize: X_STEP,
              color: TICK_INK,
              font: { family: "Roboto", size: 17 },
              padding: 3,
              callback: (v: any) => String(v),
              maxRotation: 0,
            },
            grid: {
              drawOnChartArea: false,
              drawTicks: true,
              tickLength: 10,
              tickColor: "#3b5d78",
              tickWidth: 1.2,
            },
            border: { display: true, color: INK, width: 1.5 },
            afterFit: (scale: any) => { scale.height = 35; },
          },
          y: {
            min: Y_MIN,
            max: Y_MAX,
            ticks: {
              stepSize: Y_STEP,
              color: TICK_INK,
              font: { family: "Roboto", size: 16 },
              padding: 8,
            },
            grid: {
              color: (ctx: any) => (ctx.tick && ctx.tick.value === 0 ? "rgba(0,0,0,0)" : GRID_INK),
              lineWidth: 1,
              tickLength: 10,
              tickColor: "#5d7a92",
              tickWidth: 1.5,
              tickBorderDash: [],
            },
            border: { display: true, color: INK, width: 1.5, dash: [1, 2] },
            title: {
              display: true,
              text: Y_TITLE,
              color: INK,
              font: { family: "Roboto", size: 19, weight: "bold" },
              padding: { top: 7, bottom: 0 },
            },
            afterFit: (scale: any) => { scale.width = 79; },
          },
        },
      } as any,
    });
    return () => chart.destroy();
  }, []);

  const legendRow = (color: string, text: string, top: number) => (
    <div style={{ position: "absolute", left: 117, top, display: "flex", alignItems: "center", height: 27 }}>
      <div style={{ width: 27, height: 27, background: color }} />
      <span style={{ marginLeft: 9, fontFamily: "Roboto", fontWeight: 700, fontSize: 19, color: INK, whiteSpace: "nowrap" }}>{text}</span>
    </div>
  );

  return (
    <div style={{ position: "relative", width: 1148, height: 723, background: "#fff", overflow: "hidden" }}>
      <canvas ref={canvasRef} width={1148} height={723} style={{ display: "block" }} />
      {legendRow("#c4c4c4", LEGEND_LABELS[0], 53)}
      {legendRow("#e8505f", LEGEND_LABELS[1], 90)}
    </div>
  );
}
